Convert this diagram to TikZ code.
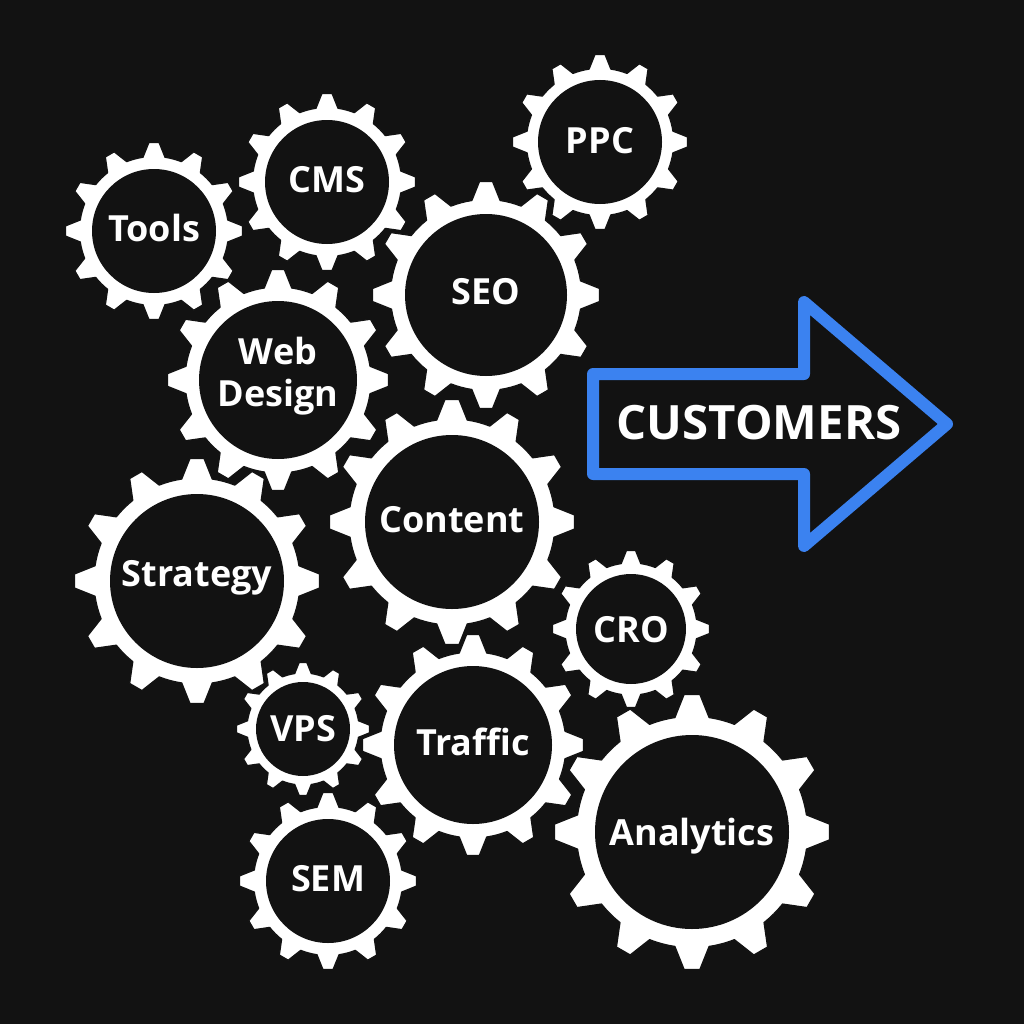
\documentclass[tikz,border=0pt]{standalone}
\usepackage{fontspec}
\setmainfont{Open Sans}
\tikzset{
	gearbody/.style={fill=white, draw={rgb, 255:red, 18; green, 18; blue, 18 }, line width=0.9pt, line join=round},
	gearhole/.style={fill={rgb, 255:red, 18; green, 18; blue, 18 }, draw=none},
	gearlabel/.style={anchor=base, inner sep=0pt, align=center, text=white, font=\fontsize{27}{32}\selectfont\bfseries},
	bluearrow/.style={color={rgb, 255:red, 59; green, 130; blue, 240 }, line width=9pt, line join=round}
}
% center x, center y, outer radius, hole radius
\newcommand{\gearat}[4]{
	\pgfmathsetmacro{\rootrad}{#3*0.84+0.6}
	\pgfmathsetmacro{\tiprad}{#3+0.6}
	\filldraw [gearbody, shift={(#1,#2)}] (-8.5:\rootrad) \foreach \a in {0,30,...,330} {
		-- (\a-3.3:\tiprad) -- (\a+3.3:\tiprad) -- (\a+8.5:\rootrad) arc [start angle=\a+8.5, end angle=\a+21.5, radius=\rootrad]
	} -- cycle;
	\fill [gearhole] (#1,#2) circle [radius=#4];
}
\begin{document}
\begin{tikzpicture}[x=0.75pt,y=0.75pt,yscale=-1,xscale=1]
\useasboundingbox (0,0) rectangle (1024,1024);
\fill [gearhole] (0,0) rectangle (1024,1024);

\gearat{154}{231}{88}{62}
\gearat{327}{182}{88}{62}
\gearat{600}{142}{87}{62}
\gearat{486}{295}{113}{81}
\gearat{197}{581}{122}{87}
\gearat{278}{380}{110}{79}
\gearat{452}{522}{122}{87}
\gearat{631}{629}{78}{55}
\gearat{303}{729}{66}{47}
\gearat{473}{745}{110}{79}
\gearat{328}{881}{88}{62}
\gearat{692}{832}{137}{97}

\draw [bluearrow] (593,374) -- (804,374) -- (804,302) -- (947,424) -- (804,546) -- (804,474) -- (593,474) -- cycle ;

\draw (154,241) node [gearlabel] (tools) {Tools};
\draw (327,192) node [gearlabel] (cms) {CMS};
\draw (600,153) node [gearlabel] (ppc) {PPC};
\draw (486,304) node [gearlabel] (seo) {SEO};
\draw (278,364) node [gearlabel] (web) {Web};
\draw (278,406) node [gearlabel] (design) {Design};
\draw (452,532) node [gearlabel] (content) {Content};
\draw (197,586) node [gearlabel] (strategy) {Strategy};
\draw (631,642) node [gearlabel] (cro) {CRO};
\draw (303,741) node [gearlabel] (vps) {VPS};
\draw (473,755) node [gearlabel] (traffic) {Traffic};
\draw (328,891) node [gearlabel] (sem) {SEM};
\draw (692,845) node [gearlabel] (analytics) {Analytics};
\draw (759,439) node [gearlabel, font=\fontsize{35.5}{42}\selectfont\bfseries] (customers) {CUSTOMERS};

\end{tikzpicture}
\end{document}
